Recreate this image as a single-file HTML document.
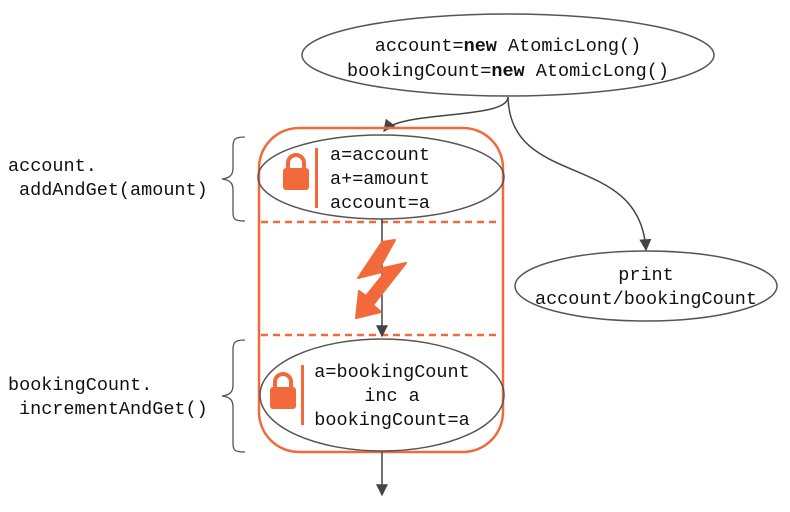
<!DOCTYPE html>
<html><head><meta charset="utf-8"><style>
html,body{margin:0;padding:0;background:#fff;width:790px;height:512px;overflow:hidden}
text{font-family:"Liberation Mono","DejaVu Sans Mono",monospace;font-size:18.5px;fill:#111}
</style></head><body>
<svg width="790" height="512" viewBox="0 0 790 512" xmlns="http://www.w3.org/2000/svg">
<defs>
<marker id="ah" viewBox="0 0 10 10" refX="9" refY="5" markerWidth="14" markerHeight="12" markerUnits="userSpaceOnUse" orient="auto">
<path d="M0,0 L10,5 L0,10 z" fill="#444"/></marker>
</defs>
<ellipse cx="508" cy="55" rx="206" ry="41" fill="#fff" stroke="#555" stroke-width="1.5"/>
<text x="508" y="51" text-anchor="middle">account=<tspan font-weight="bold">new</tspan> AtomicLong()</text>
<text x="508" y="76" text-anchor="middle">bookingCount=<tspan font-weight="bold">new</tspan> AtomicLong()</text>
<path d="M508,97 C508,120 400,110 384,131" fill="none" stroke="#444" stroke-width="1.5" marker-end="url(#ah)"/>
<path d="M508,97 C510,190 640,150 646,250" fill="none" stroke="#444" stroke-width="1.5" marker-end="url(#ah)"/>
<rect x="259" y="128" width="244" height="324" rx="40" fill="none" stroke="#f26a3b" stroke-width="2.5"/>
<line x1="261" y1="222" x2="501" y2="222" stroke="#f26a3b" stroke-width="2.5" stroke-dasharray="7,5"/>
<line x1="261" y1="335" x2="501" y2="335" stroke="#f26a3b" stroke-width="2.5" stroke-dasharray="7,5"/>
<ellipse cx="381" cy="177" rx="123" ry="42" fill="none" stroke="#555" stroke-width="1.5"/>
<rect x="315" y="148" width="3" height="60" fill="#f26a3b"/>
<text x="330" y="160">a=account</text>
<text x="330" y="184">a+=amount</text>
<text x="330" y="208">account=a</text>
<path d="M288,170 v-7 a8,8 0 0 1 16,0 v7" fill="none" stroke="#f26a3b" stroke-width="4"/>
<rect x="283" y="168" width="26" height="22" rx="3" fill="#f26a3b"/>
<line x1="382" y1="219" x2="382" y2="336" stroke="#444" stroke-width="1.5" marker-end="url(#ah)"/>
<path d="M395,240 L382,242 L358,278 L386,271 L366,296 L359,291 L356,318 L381,312 L373,305 L406,263 L379,269 Z" fill="#f26a3b" stroke="#f26a3b" stroke-width="2" stroke-linejoin="round"/>
<ellipse cx="382" cy="395" rx="122" ry="56" fill="none" stroke="#555" stroke-width="1.5"/>
<rect x="301" y="365" width="3" height="60" fill="#f26a3b"/>
<text x="392" y="377" text-anchor="middle">a=bookingCount</text>
<text x="392" y="401" text-anchor="middle">inc a</text>
<text x="392" y="425" text-anchor="middle">bookingCount=a</text>
<path d="M275,389 v-7 a8,8 0 0 1 16,0 v7" fill="none" stroke="#f26a3b" stroke-width="4"/>
<rect x="270" y="387" width="26" height="22" rx="3" fill="#f26a3b"/>
<line x1="382" y1="452" x2="382" y2="495" stroke="#444" stroke-width="1.5" marker-end="url(#ah)"/>
<ellipse cx="646" cy="286" rx="131" ry="35" fill="#fff" stroke="#555" stroke-width="1.5"/>
<text x="646" y="280" text-anchor="middle">print</text>
<text x="646" y="304" text-anchor="middle">account/bookingCount</text>
<text x="8" y="171">account.</text>
<text x="19" y="195">addAndGet(amount)</text>
<text x="8" y="390">bookingCount.</text>
<text x="19" y="414">incrementAndGet()</text>
<path d="M245,137 C233,137 233,140 233,150 L233,168 C233,175 230,178 222,179 C230,180 233,183 233,190 L233,209 C233,219 233,221 245,221" fill="none" stroke="#555" stroke-width="1.3"/>
<path d="M245,340 C233,340 233,343 233,353 L233,385 C233,392 230,395 222,396 C230,397 233,400 233,407 L233,440 C233,450 233,452 245,452" fill="none" stroke="#555" stroke-width="1.3"/>
</svg>
</body></html>
